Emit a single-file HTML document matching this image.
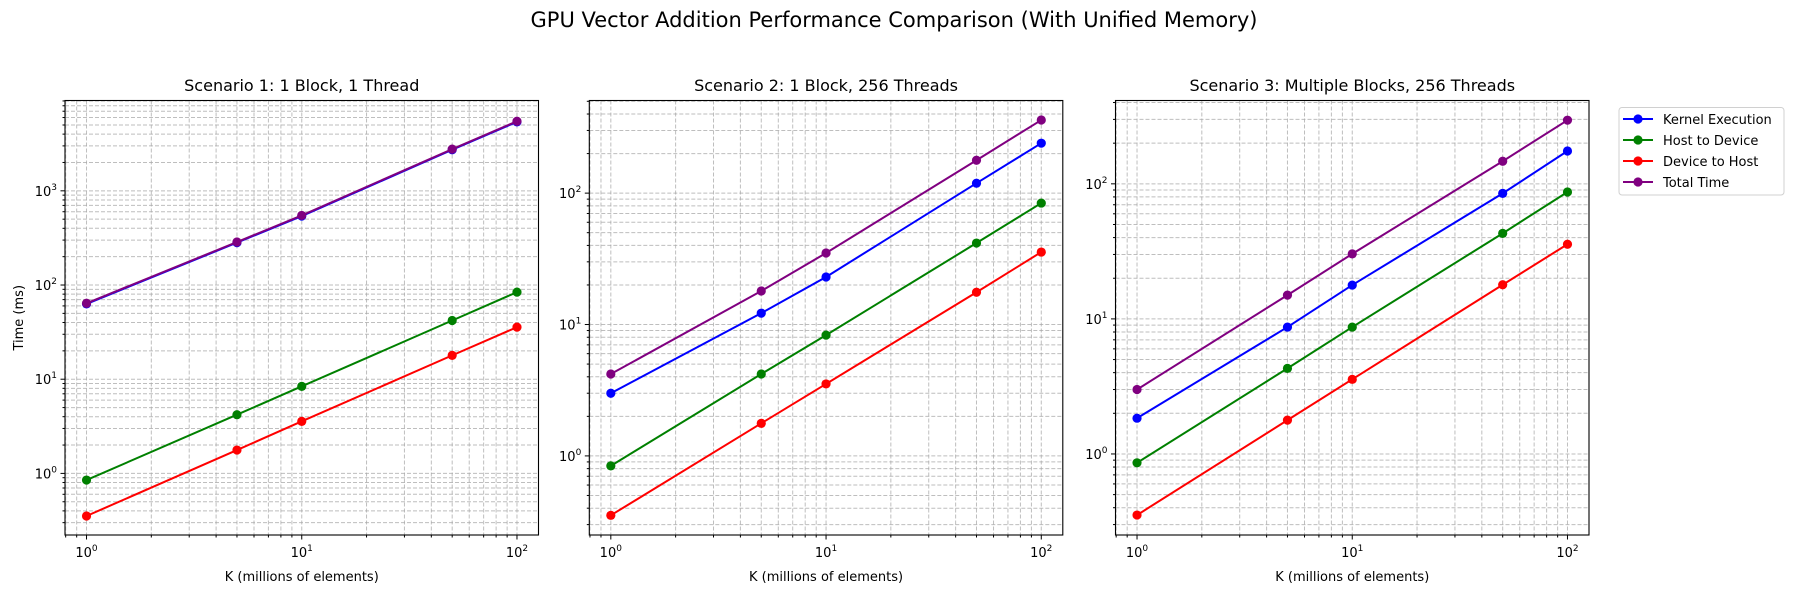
<!DOCTYPE html>
<html><head><meta charset="utf-8"><style>
html,body{margin:0;padding:0;background:#fff;}
svg{display:block;font-family:"DejaVu Sans","Liberation Sans",sans-serif;}
</style></head><body>
<svg id="fig" width="1794" height="593" viewBox="0 0 1794 593" xmlns="http://www.w3.org/2000/svg">
<rect width="1794" height="593" fill="#fff"/>
<text x="894" y="27" font-size="21" text-anchor="middle" fill="#000">GPU Vector Addition Performance Comparison (With Unified Memory)</text>
</svg>
<script>
const categories = [1, 5, 10, 50, 100];
const seriesNames = ["Kernel Execution", "Host to Device", "Device to Host", "Total Time"];
const seriesColors = ["#0000ff", "#008000", "#ff0000", "#800080"];
const s1Kernel = [63, 282, 540, 2730, 5400];
const s1H2D = [0.85, 4.2, 8.4, 42, 84];
const s1D2H = [0.353, 1.77, 3.57, 17.9, 35.7];
const s1Total = [64, 286, 548, 2770, 5480];
const s2Kernel = [3.0, 12.2, 23, 119, 240];
const s2H2D = [0.84, 4.2, 8.3, 41.7, 84];
const s2D2H = [0.353, 1.77, 3.53, 17.6, 35.6];
const s2Total = [4.2, 18, 35, 178, 360];
const s3Kernel = [1.84, 8.7, 17.8, 85, 175];
const s3H2D = [0.86, 4.3, 8.7, 43, 87];
const s3D2H = [0.353, 1.78, 3.57, 17.9, 35.7];
const s3Total = [3.0, 15, 30.3, 147, 296];
const titles = ["Scenario 1: 1 Block, 1 Thread", "Scenario 2: 1 Block, 256 Threads", "Scenario 3: Multiple Blocks, 256 Threads"];
const xTickExps = [0, 1, 2];
const yTickExps1 = [0, 1, 2, 3];
const yTickExps2 = [0, 1, 2];
const yTickExps3 = [0, 1, 2];

const NS = "http://www.w3.org/2000/svg";
const svg = document.getElementById("fig");
function el(tag, attrs, parent) {
  const e = document.createElementNS(NS, tag);
  for (const k in attrs) e.setAttribute(k, attrs[k]);
  (parent || svg).appendChild(e);
  return e;
}
const panels = [
  {left: 65, top: 100.5, w: 473.5, h: 434.5, yMin: -0.654, yMax: 3.959, data: [s1Kernel, s1H2D, s1D2H, s1Total], yt: yTickExps1},
  {left: 589.3, top: 100.5, w: 473.5, h: 434.5, yMin: -0.602, yMax: 2.705, data: [s2Kernel, s2H2D, s2D2H, s2Total], yt: yTickExps2},
  {left: 1115.5, top: 100.5, w: 473.5, h: 434.5, yMin: -0.600, yMax: 2.617, data: [s3Kernel, s3H2D, s3D2H, s3Total], yt: yTickExps3}
];
const xMin = -0.1, xMax = 2.1;
panels.forEach((p, pi) => {
  const g = el("g", {});
  
  
  const xs = v => p.left + (Math.log10(v) - xMin) / (xMax - xMin) * p.w;
  const ys = v => p.top + p.h - (Math.log10(v) - p.yMin) / (p.yMax - p.yMin) * p.h;
  const bottom = p.top + p.h, right = p.left + p.w;
  const grid = el("g", {stroke: "#a8a8a8", "stroke-opacity": "0.75", "stroke-width": "1", "stroke-dasharray": "4,2"}, g);
  
  
  const xticks = [], yticks = [];
  for (let d = -1; d <= 2; d++) for (let m = 1; m <= 9; m++) {
    const v = m * Math.pow(10, d), l = Math.log10(v);
    if (l >= xMin && l <= xMax) xticks.push({v, major: m === 1});
  }
  for (let d = -1; d <= 4; d++) for (let m = 1; m <= 9; m++) {
    const v = m * Math.pow(10, d), l = Math.log10(v);
    if (l >= p.yMin && l <= p.yMax) yticks.push({v, major: m === 1});
  }
  xticks.forEach(t => {
    const x = xs(t.v);
    el("line", {x1: x, x2: x, y1: p.top, y2: bottom}, grid);
    el("line", {x1: x, x2: x, y1: bottom, y2: bottom + (t.major ? 4.5 : 2.5), stroke: "#000", "stroke-width": "1"}, g);
  });
  yticks.forEach(t => {
    const y = ys(t.v);
    el("line", {x1: p.left, x2: right, y1: y, y2: y}, grid);
    el("line", {x1: p.left, x2: p.left - (t.major ? 4.5 : 2.5), y1: y, y2: y, stroke: "#000", "stroke-width": "1"}, g);
  });
  xTickExps.forEach(e => {
    const t = el("text", {x: xs(Math.pow(10, e)), y: bottom + 22, "font-size": "13", "text-anchor": "middle"}, g);
    
    
    t.innerHTML = '10<tspan dy="-6" font-size="9">' + e + '</tspan>';
  });
  p.yt.forEach(e => {
    const t = el("text", {x: p.left - 8, y: ys(Math.pow(10, e)) + 5, "font-size": "13", "text-anchor": "end"}, g);
    
    
    t.innerHTML = '10<tspan dy="-6" font-size="9">' + e + '</tspan>';
  });
  p.data.forEach((arr, si) => {
    const sg = el("g", {}, g);
    
    
    const pts = arr.map((v, i) => xs(categories[i]).toFixed(2) + "," + ys(v).toFixed(2)).join(" ");
    el("polyline", {points: pts, fill: "none", stroke: seriesColors[si], "stroke-width": "2"}, sg);
    arr.forEach((v, i) => {
      const c = el("circle", {cx: xs(categories[i]), cy: ys(v), r: 4.6, fill: seriesColors[si]}, sg);
      
      
    });
  });
  const frame = el("rect", {x: p.left, y: p.top, width: p.w, height: p.h, fill: "none", stroke: "#000", "stroke-width": "1.1"}, g);
  
  
  const tt = el("text", {x: p.left + p.w / 2, y: 91, "font-size": "16", "text-anchor": "middle"}, g);
  
  
  tt.textContent = titles[pi];
  const xl = el("text", {x: p.left + p.w / 2, y: 581, "font-size": "13", "text-anchor": "middle"}, g);
  
  
  xl.textContent = "K (millions of elements)";
  if (pi === 0) {
    const yl = el("text", {x: 0, y: 0, "font-size": "13", "text-anchor": "middle", transform: "translate(23," + (p.top + p.h / 2) + ") rotate(-90)"}, g);
    
    
    yl.textContent = "Time (ms)";
  }
});
const lg = el("g", {});


el("rect", {x: 1619, y: 107.5, width: 165, height: 87.5, rx: 3, fill: "#fff", stroke: "#d0d0d0", "stroke-width": "1"}, lg);
seriesNames.forEach((n, i) => {
  const eg = el("g", {}, lg);
  
  
  const y = 119 + i * 21;
  el("line", {x1: 1623, x2: 1653, y1: y, y2: y, stroke: seriesColors[i], "stroke-width": "2"}, eg);
  el("circle", {cx: 1638, cy: y, r: 4.6, fill: seriesColors[i]}, eg);
  const t = el("text", {x: 1663, y: y + 5, "font-size": "13"}, eg);
  t.textContent = n;
});
</script>
</body></html>
